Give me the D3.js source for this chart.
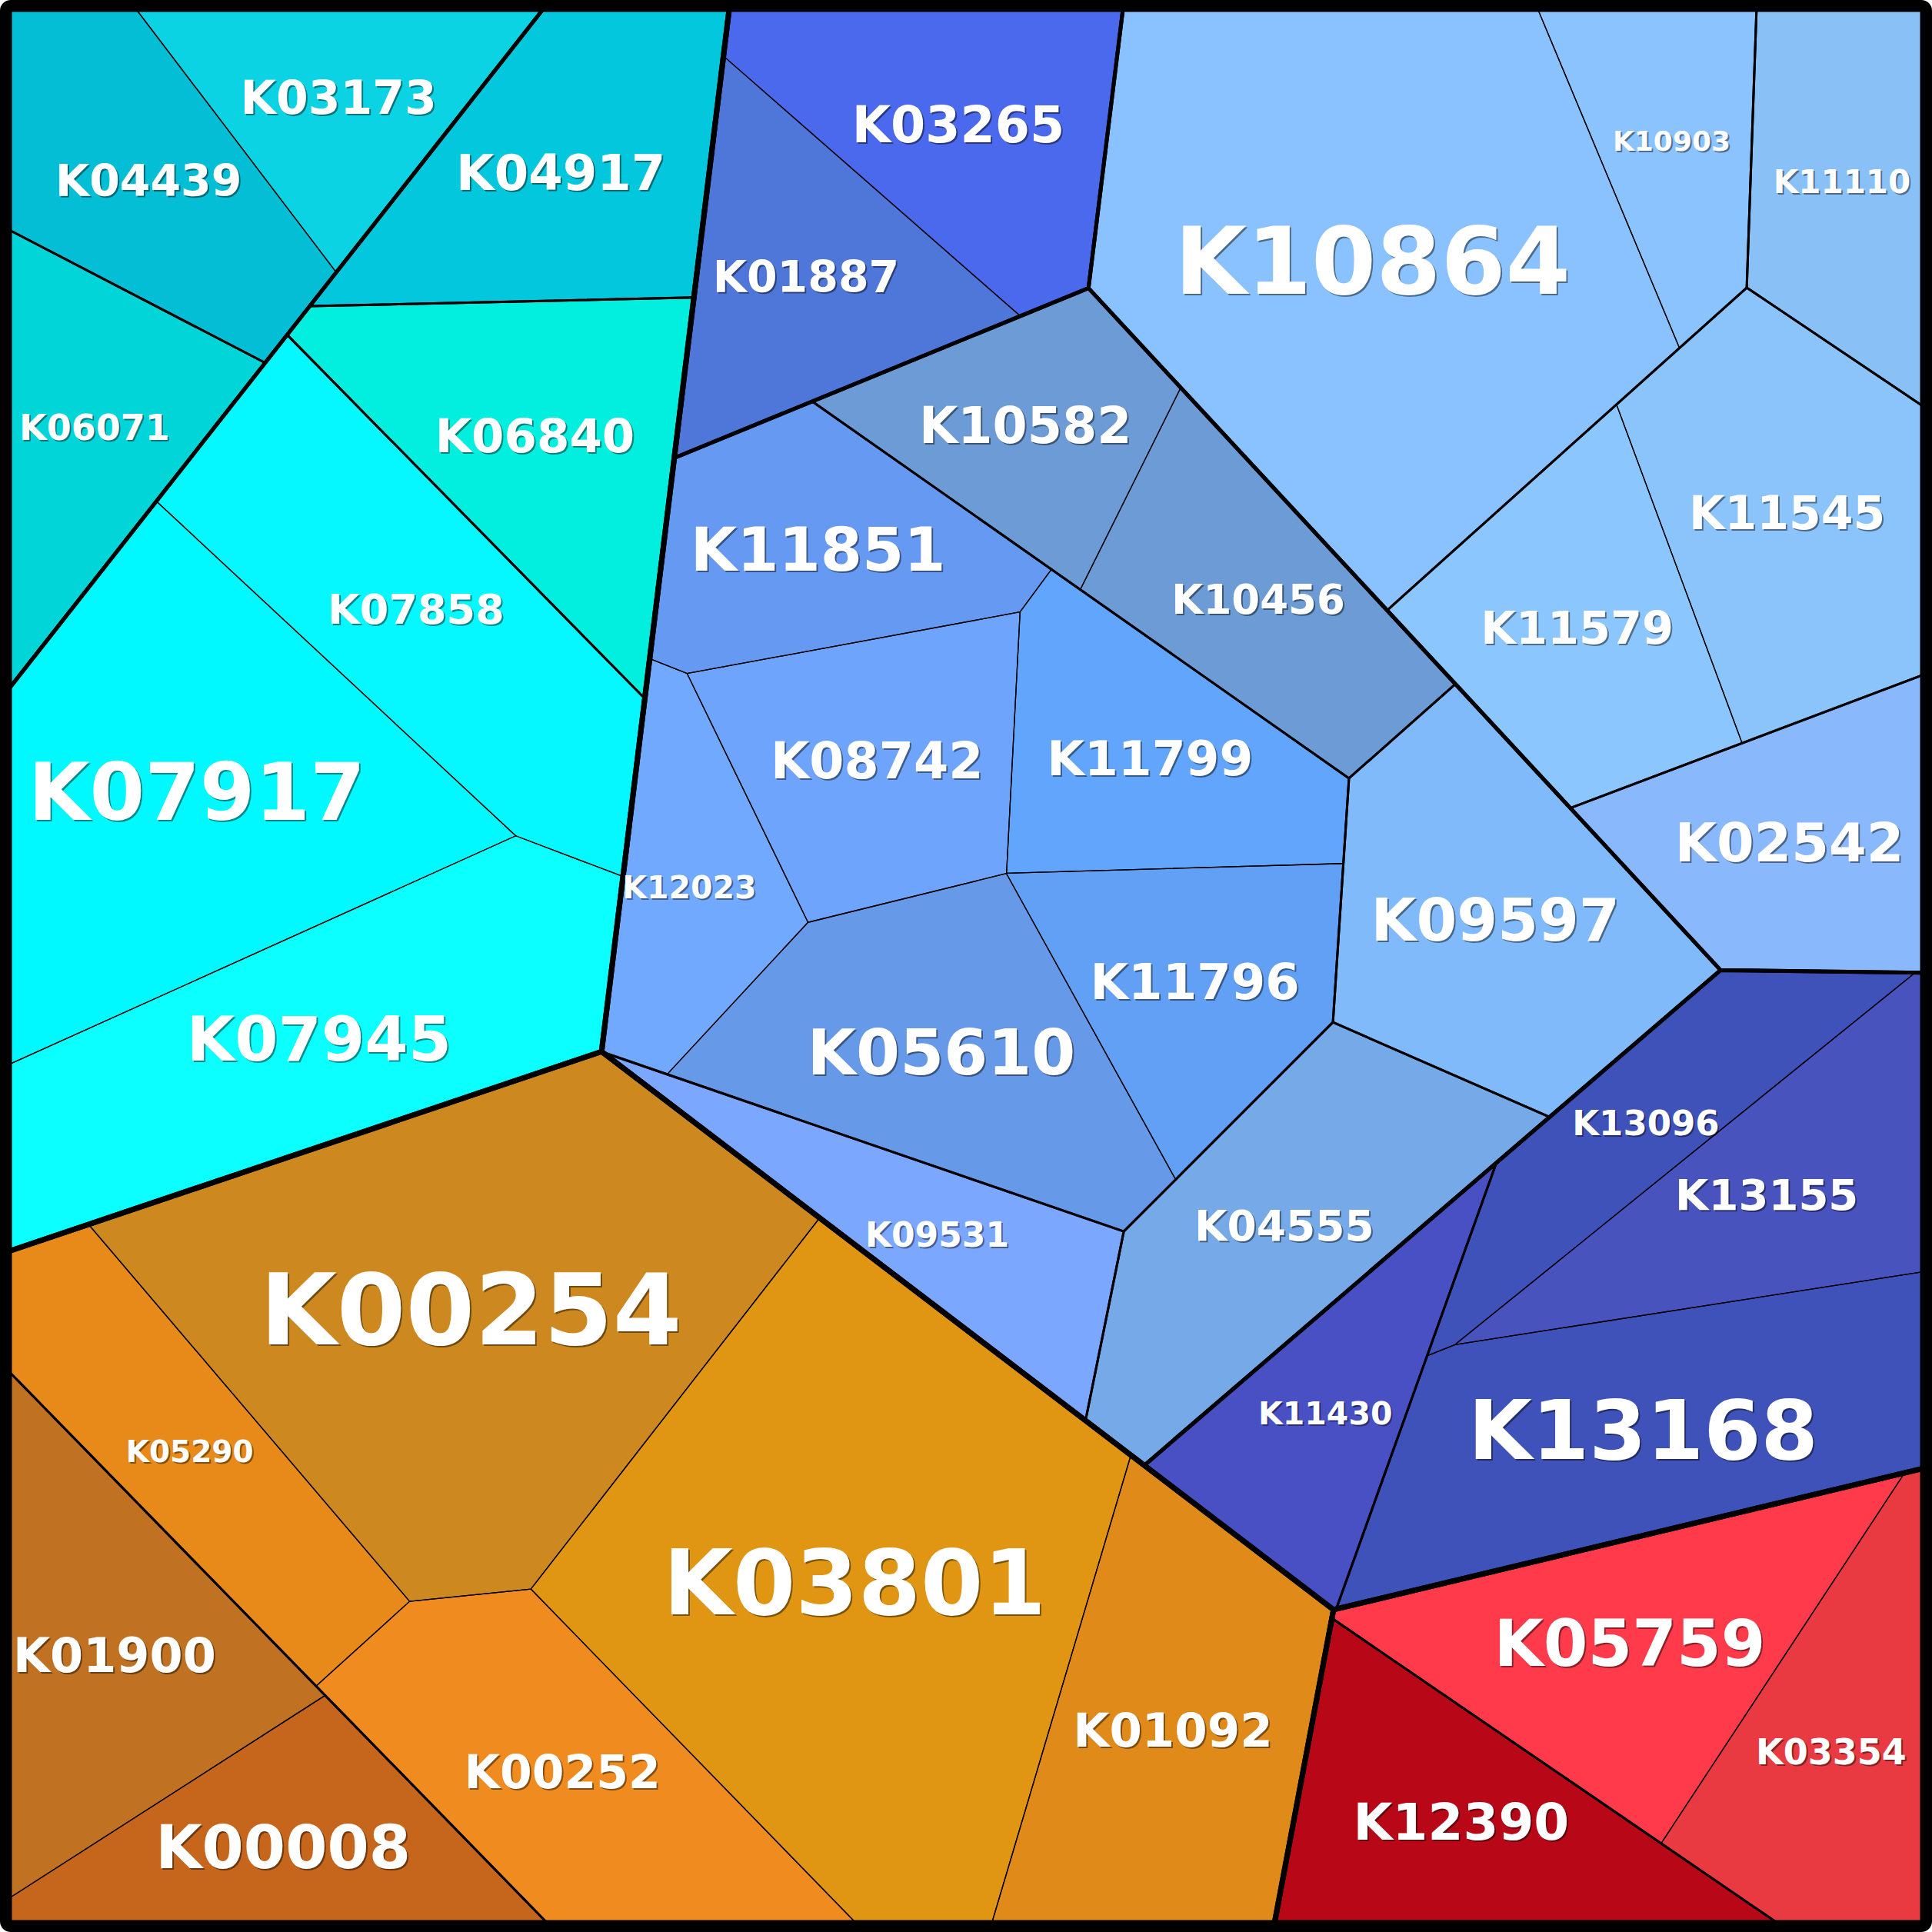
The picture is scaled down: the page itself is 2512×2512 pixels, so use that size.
<!DOCTYPE html>
<html>
<head>
<meta charset="utf-8">
<script src="https://cdn.jsdelivr.net/npm/d3@7"></script>
<style>
body { margin: 0; background: #fff; }
</style>
</head>
<body>
<svg id="chart" width="2512" height="2512"></svg>
<script>
// KEGG orthology ids (leaf cells)
const ids = ["K03173","K04439","K06071","K04917","K06840","K07858","K07917","K07945",
  "K03265","K01887","K10582","K10456","K11851","K08742","K11799","K12023","K11796","K05610","K09531","K09597","K04555",
  "K10864","K10903","K11110","K11545","K11579","K02542",
  "K13096","K13155","K13168","K11430",
  "K00254","K05290","K01900","K00008","K00252","K03801","K01092",
  "K05759","K03354","K12390"];

// hierarchy: level1/level2/level3
const paths = ["C/ca/ca1","C/ca/ca1","C/ca/ca2","C/cb/cb1","C/cb/cb2","C/cb/cb3","C/cb/cb3","C/cb/cb3",
  "U/b1/b1x","U/b1/b1x","U/b2/g1","U/b2/g1","U/b2/g2","U/b2/g2","U/b2/g2","U/b2/g2","U/b2/g2","U/b2/g2","U/b2/g5","U/b2/g3","U/b2/g4",
  "U/lb/lbA","U/lb/lbA","U/lb/lb3","U/lb/lb4","U/lb/lb4","U/lb/lb5",
  "U/ind/ind2","U/ind/ind2","U/ind/ind2","U/ind/ind1",
  "O/o2/ob","O/o2/ob","O/o2/oa","O/o2/oa","O/o2/ob","O/o2/ob","O/o2/ob",
  "R/r2/ra","R/r2/ra","R/r2/rb"];

// cell size (abundance)
const values = [35.4,45.7,38.8,54.8,56.9,72.6,101.5,85.7,
  51.0,43.7,36.7,43.2,45.2,46.8,45.0,31.6,42.4,63.8,34.9,65.2,59.5,
  158.7,30.5,38.4,62.2,49.4,45.4,
  36.7,47.2,78.2,36.1,
  146.2,47.0,55.0,43.0,61.3,162.5,67.7,
  60.0,45.0,50.6];

// voronoi generator sites of the leaves, % of the square
const siteX = [16.42,8.02,4.23,29.02,29.36,22.41,10.49,14.33,
  49.33,41.94,52.48,65.87,42.64,44.90,60.36,36.03,60.62,48.90,44.60,77.21,69.38,
  71.36,86.86,97.40,93.27,81.70,93.45,
  84.17,88.64,90.08,70.78,
  24.71,11.69,6.34,13.45,27.63,42.70,62.04,
  84.91,94.68,78.84];
const siteY = [3.56,9.95,21.73,8.54,23.58,30.56,43.36,51.87,
  5.73,14.17,22.96,29.62,27.61,39.84,40.64,44.15,49.60,56.08,59.83,46.93,64.84,
  13.22,6.74,11.93,27.19,31.48,43.37,
  58.01,63.54,72.79,67.48,
  65.96,77.05,85.49,96.57,94.63,79.96,85.71,
  84.98,91.40,96.68];

// sites of the groups that share a parent with other groups
const groupNames = ["C","U","O","R","ca","cb","ca1","cb3","b1","b2","lb","ind","g1","g2","lbA","lb4","ind2","oa","ob","ra"];
const groupSiteX = [15.89,68.99,33.68,82.27,5.70,22.61,11.80,12.68,45.92,57.50,83.02,82.37,61.14,49.66,72.98,87.27,85.32,12.91,31.55,86.24];
const groupSiteY = [29.26,35.76,82.07,91.22,16.41,29.70,7.15,39.98,13.36,41.59,17.94,70.53,28.77,45.12,11.07,27.00,72.70,94.07,75.88,85.86];

// styles
const fills = ["#0BD3E3","#04BED6","#01D5D8","#02C7DD","#02EFE0","#05F7FF","#00F8FF","#0CFFFF",
  "#4A69ED","#4F76D9","#6C9BD6","#6C9BD6","#6699F2","#6EA4FC","#61A5FC","#70A9FD","#61A0F5","#6699E8","#7BA7FF","#80BAFA","#76A9E8",
  "#89C2FF","#8BC3FE","#89C0F5","#8AC4FB","#8BC6FE","#89B9FC",
  "#3F52BA","#4953BE","#3F52BA","#4850C4",
  "#CD8820","#E88A19","#C07222","#C6661C","#F08C1F","#E09612","#E08A1A",
  "#FF3B4B","#E83A40","#B80818"];
const labelPx = [60,57,46,64,61,54,103,81,
  65,57,65,53,78,65,63,41,64,82,44,76,55,
  121,36,42,60,59,70,
  45,56,107,41,
  129,39,62,78,60,117,61,
  83,46,66];
const borderW = [12, 7, 5, 3, 1.3]; // frame, then by depth 1..4

const leaves = ids.map((id, i) => ({
  id, path: paths[i].split("/"), value: values[i],
  sx: siteX[i], sy: siteY[i], fill: fills[i], size: labelPx[i]
}));
const groupSite = new Map(groupNames.map((g, i) => [g, [groupSiteX[i], groupSiteY[i]]]));

const grouped = d3.group(leaves, d => d.path[0], d => d.path[1], d => d.path[2]);
const root = d3.hierarchy(grouped).sum(d => d.value || 0);

// ---- power diagram (weighted voronoi) treemap ----
function clip(poly, a, b, c) {
  const out = [];
  for (let i = 0; i < poly.length; i++) {
    const p = poly[i], q = poly[(i + 1) % poly.length];
    const fp = a * p[0] + b * p[1] - c, fq = a * q[0] + b * q[1] - c;
    if (fp <= 0) out.push(p);
    if ((fp < 0 && fq > 0) || (fp > 0 && fq < 0)) {
      const t = fp / (fp - fq);
      out.push([p[0] + t * (q[0] - p[0]), p[1] + t * (q[1] - p[1])]);
    }
  }
  return out;
}

function powerCells(poly, sites, w) {
  return sites.map((p, i) => {
    let cell = poly;
    for (let j = 0; j < sites.length; j++) {
      if (i === j || cell.length < 3) continue;
      const q = sites[j];
      const a = 2 * (q[0] - p[0]), b = 2 * (q[1] - p[1]);
      const c = q[0] * q[0] + q[1] * q[1] - p[0] * p[0] - p[1] * p[1] - w[j] + w[i];
      cell = clip(cell, a, b, c);
    }
    return cell;
  });
}

const area = c => c.length > 2 ? Math.abs(d3.polygonArea(c)) : 0;

function site(node) {
  if (!node.children) return [node.data.sx, node.data.sy];
  const key = node.data[0];
  if (groupSite.has(key)) return groupSite.get(key);
  return site(node.children[0]);
}

function split(node, poly) {
  node.poly = poly;
  if (!node.children) return;
  const kids = node.children;
  if (kids.length === 1) { split(kids[0], poly); return; }
  const A = area(poly);
  const sites = kids.map(site);
  const target = kids.map(k => A * k.value / node.value);
  const w = kids.map(() => 0);
  let cells = powerCells(poly, sites, w);
  for (let it = 0; it < 5000; it++) {
    const areas = cells.map(area);
    kids.forEach((k, i) => { w[i] += 0.12 * (target[i] - areas[i]); });
    cells = powerCells(poly, sites, w);
  }
  kids.forEach((k, i) => split(k, cells[i]));
}

split(root, [[0, 0], [100, 0], [100, 100], [0, 100]]);

// ---- drawing ----
const svg = d3.select("#chart");
const x = d3.scaleLinear().domain([0, 100]).range([12, 2500]);
const y = d3.scaleLinear().domain([0, 100]).range([12, 2500]);
const line = d3.line().x(p => x(p[0])).y(p => y(p[1])).curve(d3.curveLinearClosed);

svg.append("g")
  .selectAll("path")
  .data(root.leaves())
  .join("path")
  .attr("d", d => line(d.poly))
  .attr("fill", d => d.data.fill)
  .attr("stroke", d => d.data.fill)
  .attr("stroke-width", 0.5);

for (let depth = 4; depth >= 1; depth--) {
  svg.append("g")
    .selectAll("path")
    .data(root.descendants().filter(n => n.depth === depth))
    .join("path")
    .attr("d", d => line(d.poly))
    .attr("fill", "none")
    .attr("stroke", "#000")
    .attr("stroke-width", borderW[depth])
    .attr("stroke-linejoin", "round");
}

const labels = svg.append("g")
  .attr("font-family", "DejaVu Sans")
  .attr("font-weight", "bold")
  .attr("text-anchor", "middle");

const labelData = root.leaves().map(n => {
  const c = d3.polygonCentroid(n.poly);
  return { id: n.data.id, size: n.data.size, cx: c[0], cy: c[1] };
});

labels.selectAll("text.shadow")
  .data(labelData)
  .join("text")
  .attr("class", "shadow")
  .attr("x", d => x(d.cx) + 2)
  .attr("y", d => y(d.cy) + 2)
  .attr("dy", "0.36em")
  .attr("font-size", d => d.size)
  .attr("fill", "#000")
  .attr("fill-opacity", 0.45)
  .text(d => d.id);

labels.selectAll("text.lab")
  .data(labelData)
  .join("text")
  .attr("class", "lab")
  .attr("x", d => x(d.cx))
  .attr("y", d => y(d.cy))
  .attr("dy", "0.36em")
  .attr("font-size", d => d.size)
  .attr("fill", "#fff")
  .text(d => d.id);

svg.append("rect")
  .attr("x", 6).attr("y", 6)
  .attr("width", 2500).attr("height", 2500)
  .attr("rx", 8)
  .attr("fill", "none")
  .attr("stroke", "#000")
  .attr("stroke-width", borderW[0]);
</script>
</body>
</html>
